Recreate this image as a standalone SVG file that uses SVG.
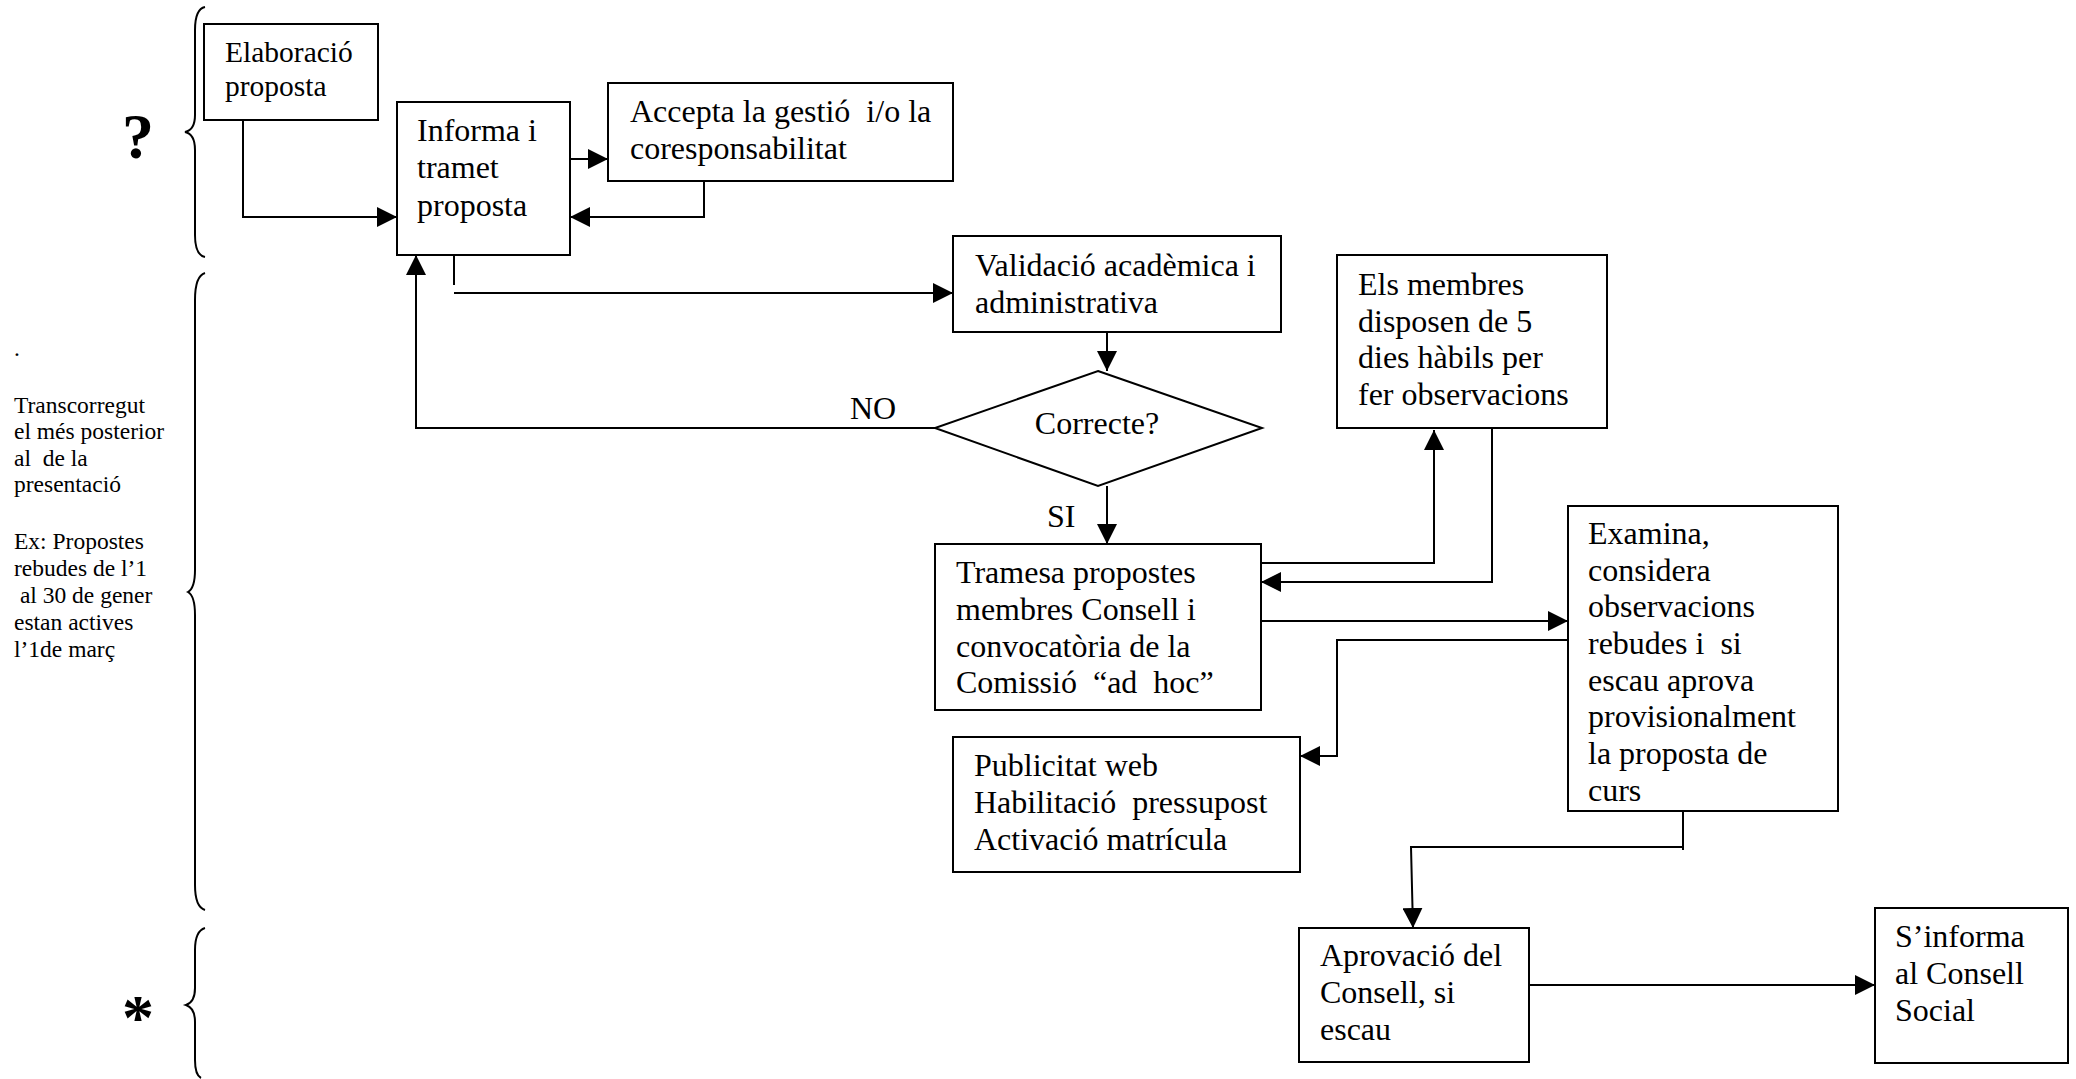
<svg xmlns="http://www.w3.org/2000/svg" width="2076" height="1079" viewBox="0 0 2076 1079">
<style>
  text { font-family: "Liberation Serif", "Times New Roman", serif; fill: #000; white-space: pre; }
  .t { font-size: 32px; }
  .s { font-size: 29.5px; }
  .n { font-size: 23.5px; }
  .big { font-size: 64px; font-weight: bold; }
  .box { fill: #fff; stroke: #000; stroke-width: 2; }
  .ln { fill: none; stroke: #000; stroke-width: 2; }
  .br { fill: none; stroke: #000; stroke-width: 2; }
</style>
<defs>
  <marker id="ah" markerUnits="userSpaceOnUse" markerWidth="20" markerHeight="20" refX="20" refY="10" orient="auto" viewBox="0 0 20 20">
    <path d="M0,0 L20,10 L0,20 z" fill="#000"/>
  </marker>
</defs>
<rect width="2076" height="1079" fill="#fff"/>

<!-- braces and side labels -->
<g id="side">
  <path class="br" d="M205,7 Q195,9 195,30 L195,115 Q195,130 185,132 Q195,134 195,150 L195,235 Q195,255 205,257"/>
  <path class="br" d="M205,273 Q195,276 195,300 L195,570 Q195,588 188,592 Q195,596 195,615 L195,885 Q195,907 205,910"/>
  <path class="br" d="M205,928 Q195,931 195,950 L195,988 Q195,1002 186,1005 Q195,1008 195,1022 L195,1060 Q195,1075 201,1078"/>
  <text class="big" x="138" y="158" text-anchor="middle">?</text>
  <text class="big" x="138" y="1039" text-anchor="middle">*</text>
  <text class="n" x="14"><tspan x="14" y="356">.</tspan><tspan x="14" y="413">Transcorregut</tspan><tspan x="14" y="439">el més posterior</tspan><tspan x="14" y="466">al  de la</tspan><tspan x="14" y="492">presentació</tspan><tspan x="14" y="549">Ex: Propostes</tspan><tspan x="14" y="576">rebudes de l’1</tspan><tspan x="14" y="603"> al 30 de gener</tspan><tspan x="14" y="630">estan actives</tspan><tspan x="14" y="657">l’1de març</tspan></text>
</g>

<!-- connectors -->
<g id="connectors">
  <path class="ln" d="M243,120 V217 H397" marker-end="url(#ah)"/>
  <path class="ln" d="M570,159 H608" marker-end="url(#ah)"/>
  <path class="ln" d="M704,181 V217 H570" marker-end="url(#ah)"/>
  <path class="ln" d="M454,255 V285"/>
  <path class="ln" d="M454,293 H953" marker-end="url(#ah)"/>
  <path class="ln" d="M1107,332 V371" marker-end="url(#ah)"/>
  <path class="ln" d="M935,428 H416 V255" marker-end="url(#ah)"/>
  <path class="ln" d="M1107,486 V544" marker-end="url(#ah)"/>
  <path class="ln" d="M1261,563 H1434 V430" marker-end="url(#ah)"/>
  <path class="ln" d="M1492,428 V582 H1261" marker-end="url(#ah)"/>
  <path class="ln" d="M1261,621 H1568" marker-end="url(#ah)"/>
  <path class="ln" d="M1568,640 H1337 V756 H1300" marker-end="url(#ah)"/>
  <path class="ln" d="M1683,773 V850"/>
  <path class="ln" d="M1683,847 H1411 L1413,928" marker-end="url(#ah)"/>
  <path class="ln" d="M1529,985 H1875" marker-end="url(#ah)"/>
  <text class="t" x="850" y="419">NO</text>
  <text class="t" x="1047" y="527">SI</text>
</g>

<g id="n-elaboracio">
  <rect class="box" x="204" y="24" width="174" height="96"/>
  <text class="s"><tspan x="225" y="62">Elaboració</tspan><tspan x="225" y="96">proposta</tspan></text>
</g>
<g id="n-informa">
  <rect class="box" x="397" y="102" width="173" height="153"/>
  <text class="t"><tspan x="417" y="141">Informa i</tspan><tspan x="417" y="178">tramet</tspan><tspan x="417" y="216">proposta</tspan></text>
</g>
<g id="n-accepta">
  <rect class="box" x="608" y="83" width="345" height="98"/>
  <text class="t"><tspan x="630" y="122">Accepta la gestió  i/o la</tspan><tspan x="630" y="159">coresponsabilitat</tspan></text>
</g>
<g id="n-validacio">
  <rect class="box" x="953" y="236" width="328" height="96"/>
  <text class="t"><tspan x="975" y="276">Validació acadèmica i</tspan><tspan x="975" y="313">administrativa</tspan></text>
</g>
<g id="n-correcte">
  <polygon class="box" points="1098,371 1262,428 1098,486 935,428"/>
  <text class="t" x="1097" y="434" text-anchor="middle">Correcte?</text>
</g>
<g id="n-membres">
  <rect class="box" x="1337" y="255" width="270" height="173"/>
  <text class="t"><tspan x="1358" y="295">Els membres</tspan><tspan x="1358" y="332">disposen de 5</tspan><tspan x="1358" y="368">dies hàbils per</tspan><tspan x="1358" y="405">fer observacions</tspan></text>
</g>
<g id="n-tramesa">
  <rect class="box" x="935" y="544" width="326" height="166"/>
  <text class="t"><tspan x="956" y="583">Tramesa propostes</tspan><tspan x="956" y="620">membres Consell i</tspan><tspan x="956" y="657">convocatòria de la</tspan><tspan x="956" y="693">Comissió  “ad  hoc”</tspan></text>
</g>
<g id="n-examina">
  <rect class="box" x="1568" y="506" width="270" height="305"/>
  <text class="t"><tspan x="1588" y="544">Examina,</tspan><tspan x="1588" y="581">considera</tspan><tspan x="1588" y="617">observacions</tspan><tspan x="1588" y="654">rebudes i  si</tspan><tspan x="1588" y="691">escau aprova</tspan><tspan x="1588" y="727">provisionalment</tspan><tspan x="1588" y="764">la proposta de</tspan><tspan x="1588" y="801">curs</tspan></text>
</g>
<g id="n-publicitat">
  <rect class="box" x="953" y="737" width="347" height="135"/>
  <text class="t"><tspan x="974" y="776">Publicitat web</tspan><tspan x="974" y="813">Habilitació  pressupost</tspan><tspan x="974" y="850">Activació matrícula</tspan></text>
</g>
<g id="n-aprovacio">
  <rect class="box" x="1299" y="928" width="230" height="134"/>
  <text class="t"><tspan x="1320" y="966">Aprovació del</tspan><tspan x="1320" y="1003">Consell, si</tspan><tspan x="1320" y="1040">escau</tspan></text>
</g>
<g id="n-informa-social">
  <rect class="box" x="1875" y="908" width="193" height="155"/>
  <text class="t"><tspan x="1895" y="947">S’informa</tspan><tspan x="1895" y="984">al Consell</tspan><tspan x="1895" y="1021">Social</tspan></text>
</g>
</svg>
